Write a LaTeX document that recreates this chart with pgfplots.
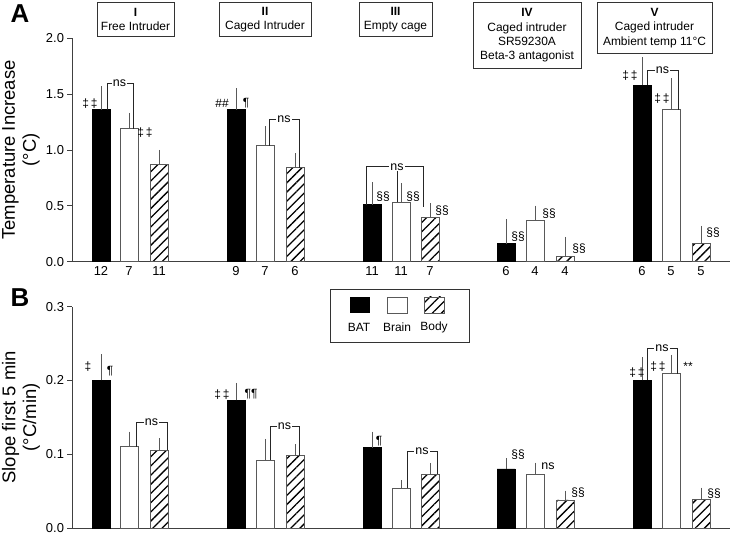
\documentclass[border=0pt]{standalone}
\usepackage{fontspec}
\setmainfont{Liberation Sans}
\usepackage{pgfplots}
\usepackage{pgfplotstable}
\pgfplotsset{compat=1.18}
\usetikzlibrary{patterns.meta}

% x = bar centre (same units as the picture), temp = panel A, slope = panel B
\pgfplotstableread{
x    temp  tempe  slope  slopee
101  1.36  0.18   0.200  0.031
236  1.36  0.16   0.173  0.019
372  0.51  0.17   0.109  0.017
506  0.16  0.19   0.080  0.010
642  1.58  0.22   0.200  0.027
}\bat
\pgfplotstableread{
x    temp  tempe  slope  slopee
129  1.19  0.11   0.110  0.016
265  1.04  0.14   0.092  0.024
401  0.53  0.14   0.054  0.006
535  0.37  0.10   0.073  0.011
671  1.36  0.25   0.209  0.021
}\brain
\pgfplotstableread{
x    temp  tempe  slope  slopee
159  0.87  0.10   0.105  0.012
295  0.84  0.10   0.098  0.011
430  0.40  0.09   0.073  0.0105
565  0.045 0.145  0.038  0.008
701  0.165 0.125  0.039  0.011
}\body

\newcommand{\tfont}{\fontsize{12}{14.5}\selectfont}
\newcommand{\kfont}{\fontsize{13}{15}\selectfont}
\newcommand{\afont}{\fontsize{12}{13}\selectfont}
\newcommand{\nsfont}{\fontsize{12.5}{13}\selectfont}
\tikzset{hatch/.style={pattern={Lines[angle=45,distance=6.5bp,line width=1.3bp]}}}

\pgfplotsset{
  panel/.style={
    scale only axis, width=658bp, xmin=72, xmax=730, ymin=0,
    axis x line*=bottom, axis y line*=left,
    axis line style={black!75, line width=0.8pt},
    tick align=outside, major tick length=4.5bp,
    ytick style={black!75, line width=0.8pt},
    tick label style={font=\kfont},
    /pgf/number format/assume math mode=true,
    yticklabel style={/pgf/number format/.cd, fixed, fixed zerofill, precision=1},
    clip=false,
    ylabel style={font=\fontsize{18.5}{21}\selectfont, align=center,
      at={(axis description cs:-0.0775,0.5)}, anchor=center},
  },
  errs/.style={error bars/.cd, y dir=plus, y explicit,
    error bar style={black!65, line width=0.7pt},
    error mark options={black!65, line width=0.7pt, mark size=3.5bp}},
  batbar/.style={ybar, bar width=18bp, bar shift=0pt, fill=black, draw=black, line width=0.8pt, errs},
  brainbar/.style={ybar, bar width=18bp, bar shift=0pt, fill=white, draw=black!65, line width=0.8pt, errs},
  bodybar/.style={ybar, bar width=18bp, bar shift=0pt, hatch, draw=black!65, line width=0.8pt, errs},
}

\begin{document}
\begin{tikzpicture}
\path[use as bounding box] (0,0) rectangle (730bp,534bp);

% panel letters
\node[font=\fontsize{26}{26}\selectfont\bfseries] at (20bp,520bp) {A};
\node[font=\fontsize{26}{26}\selectfont\bfseries] at (20bp,236bp) {B};

% condition boxes
\begin{scope}[every node/.style={draw=black!80, line width=0.8pt, align=center, font=\tfont, anchor=north, inner sep=2bp}]
\node[minimum width=77bp, minimum height=34bp] at (135.5bp,532bp) {\textbf{I}\\Free Intruder};
\node[minimum width=92bp, minimum height=34bp] at (265bp,532bp) {\textbf{II}\\Caged Intruder};
\node[minimum width=73bp, minimum height=34bp] at (395.5bp,532bp) {\textbf{III}\\Empty cage};
\node[minimum width=108bp, minimum height=66bp] at (527bp,532bp) {\textbf{IV}\\Caged intruder\\SR59230A\\Beta-3 antagonist};
\node[minimum width=115bp, minimum height=51bp] at (654.5bp,532bp) {\textbf{V}\\Caged intruder\\Ambient temp 11°C};
\end{scope}

% ---------------- panel A ----------------
\begin{axis}[panel, at={(72bp,272.3bp)}, anchor=south west,
  height=223.4bp, ymax=2, ytick={0,0.5,1,1.5,2},
  xtick={101,129,159,236,265,295,372,401,430,506,535,565,642,671,701},
  xticklabels={12,7,11,9,7,6,11,11,7,6,4,4,6,5,5},
  x tick style={draw=none}, xticklabel style={yshift=3bp},
  ylabel={Temperature Increase\\(°C)}]
\addplot[batbar] table[x=x, y=temp, y error=tempe] {\bat};
\addplot[brainbar] table[x=x, y=temp, y error=tempe] {\brain};
\addplot[bodybar] table[x=x, y=temp, y error=tempe] {\body};

\begin{scope}[black!85, line width=0.8pt]
\draw (axis cs:107,1.36) |- (axis cs:133,1.60) -- (axis cs:133,1.19);
\draw (axis cs:269,1.04) |- (axis cs:299,1.275) -- (axis cs:299,0.84);
\draw (axis cs:366,0.51) |- (axis cs:423,0.85) -- (axis cs:423,0.49);
\draw (axis cs:397,0.85) -- (axis cs:397,0.53);
\draw (axis cs:647,1.58) |- (axis cs:678,1.716) -- (axis cs:678,1.36);
\end{scope}
\begin{scope}[every node/.style={font=\afont, inner sep=1bp}]
\node[fill=white, font=\nsfont] at (axis cs:119.5,1.60) {ns};
\node[fill=white, font=\nsfont] at (axis cs:284,1.275) {ns};
\node[fill=white, font=\nsfont] at (axis cs:397,0.85) {ns};
\node[fill=white, font=\nsfont] at (axis cs:662.5,1.716) {ns};
\node at (axis cs:90,1.42) {‡\,‡};
\node at (axis cs:145,1.16) {‡\,‡};
\node at (axis cs:222,1.42) {\#\#};
\node at (axis cs:246,1.42) {¶};
\node at (axis cs:383,0.58) {§§};
\node at (axis cs:413,0.58) {§§};
\node at (axis cs:442,0.46) {§§};
\node at (axis cs:518,0.22) {§§};
\node at (axis cs:549,0.43) {§§};
\node at (axis cs:579,0.12) {§§};
\node at (axis cs:630,1.67) {‡\,‡};
\node at (axis cs:662,1.46) {‡\,‡};
\node at (axis cs:713,0.26) {§§};
\end{scope}
\end{axis}

% ---------------- panel B ----------------
\begin{axis}[panel, at={(72bp,6bp)}, anchor=south west,
  height=221.3bp, ymax=0.3, ytick={0,0.1,0.2,0.3}, xtick=\empty,
  ylabel={Slope first 5 min\\(°C/min)}]
\addplot[batbar] table[x=x, y=slope, y error=slopee] {\bat};
\addplot[brainbar] table[x=x, y=slope, y error=slopee] {\brain};
\addplot[bodybar] table[x=x, y=slope, y error=slopee] {\body};

\begin{scope}[black!85, line width=0.8pt]
\draw (axis cs:136,0.110) |- (axis cs:167,0.143) -- (axis cs:167,0.1055);
\draw (axis cs:270,0.092) |- (axis cs:299,0.138) -- (axis cs:299,0.098);
\draw (axis cs:407,0.054) |- (axis cs:437,0.104) -- (axis cs:437,0.073);
\draw (axis cs:647,0.200) |- (axis cs:677,0.244) -- (axis cs:677,0.209);
\end{scope}
\begin{scope}[every node/.style={font=\afont, inner sep=1bp}]
\node[fill=white, font=\nsfont] at (axis cs:151.5,0.143) {ns};
\node[fill=white, font=\nsfont] at (axis cs:284.5,0.138) {ns};
\node[fill=white, font=\nsfont] at (axis cs:422,0.104) {ns};
\node[fill=white, font=\nsfont] at (axis cs:662,0.244) {ns};
\node at (axis cs:88,0.219) {‡};
\node at (axis cs:110,0.212) {¶};
\node at (axis cs:222,0.181) {‡\,‡};
\node at (axis cs:251,0.181) {¶¶};
\node at (axis cs:379,0.118) {¶};
\node at (axis cs:518,0.100) {§§};
\node[font=\nsfont] at (axis cs:548,0.084) {ns};
\node at (axis cs:578,0.048) {§§};
\node at (axis cs:637,0.211) {‡\,‡};
\node at (axis cs:658,0.219) {‡\,‡};
\node at (axis cs:688,0.219) {**};
\node at (axis cs:714,0.046) {§§};
\end{scope}
\end{axis}

% legend
\draw[black!80, line width=0.8pt] (330bp,245bp) rectangle (469bp,192bp);
\fill[black] (350bp,237bp) rectangle (370bp,221bp);
\draw[black!65, line width=0.8pt, fill=white] (387bp,237bp) rectangle (407bp,221bp);
\draw[black!65, line width=0.8pt, hatch] (424bp,237bp) rectangle (444bp,221bp);
\node[font=\tfont] at (359bp,207bp) {BAT};
\node[font=\tfont] at (397bp,207bp) {Brain};
\node[font=\tfont] at (434bp,207bp) {Body};
\end{tikzpicture}
\end{document}
